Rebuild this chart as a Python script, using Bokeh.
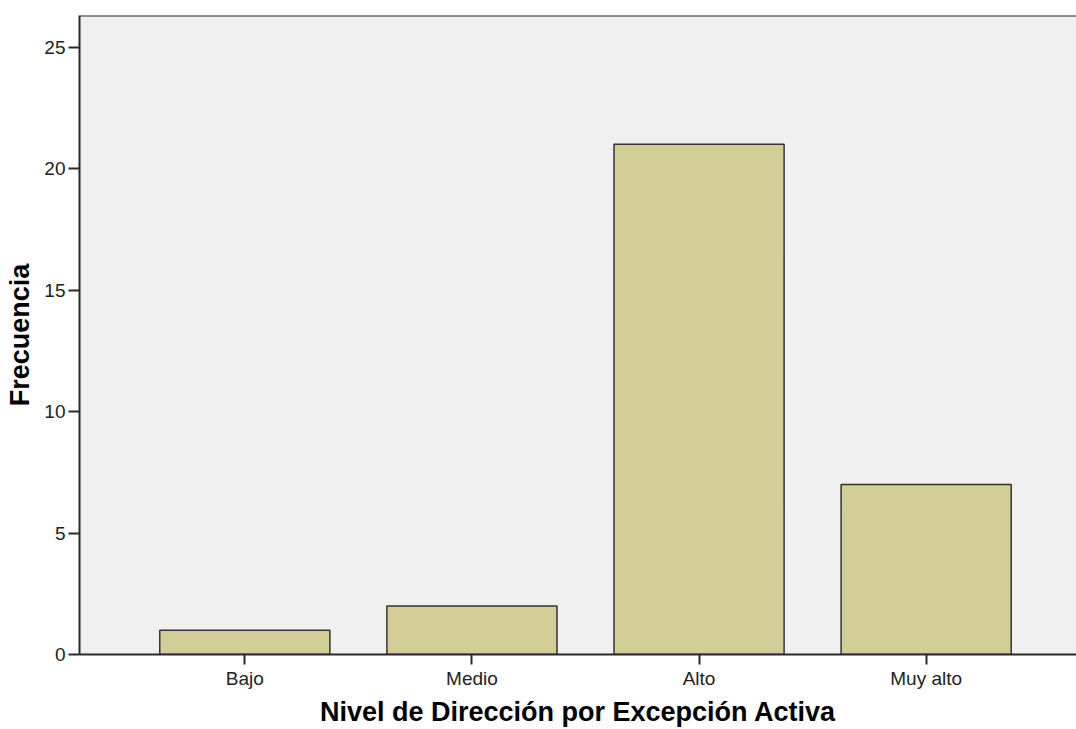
from bokeh.plotting import figure
from bokeh.models import ColumnDataSource, FixedTicker, Span, Range1d
from bokeh.embed import file_html
from bokeh.resources import INLINE

categories = ["Bajo", "Medio", "Alto", "Muy alto"]
frequencies = [1, 2, 21, 7]
y_ticks = [0, 5, 10, 15, 20, 25]

positions = list(range(1, len(categories) + 1))
source = ColumnDataSource(data=dict(x=positions, top=frequencies, cat=categories))

FONT = "Liberation Sans"

p = figure(width=1076, height=729, output_backend="svg", toolbar_location=None,
           x_range=Range1d(0.272, 4.662), y_range=Range1d(0, 26.3),
           min_border_left=79, min_border_right=0, min_border_top=15, min_border_bottom=75)

p.vbar(x="x", top="top", bottom=0, width=0.749, source=source,
       fill_color="#D3CE98", line_color="#333333", line_width=1.5)

p.background_fill_color = "#F0F0F0"
p.border_fill_color = "white"
p.outline_line_color = None
p.xgrid.visible = False
p.ygrid.visible = False

top_line = Span(location=26.3, dimension="width", line_color="#2a2a2a", line_width=2)
p.add_layout(top_line)

# x axis
p.xaxis.ticker = FixedTicker(ticks=positions)
p.xaxis.major_label_overrides = {pos: c for pos, c in zip(positions, categories)}
p.xaxis.axis_label = "Nivel de Dirección por Excepción Activa"
# y axis
p.yaxis.ticker = FixedTicker(ticks=y_ticks)
p.yaxis.axis_label = "Frecuencia"

for ax in (p.xaxis, p.yaxis):
    ax.axis_line_color = "#2a2a2a"
    ax.axis_line_width = 2
    ax.major_tick_line_color = "#2a2a2a"
    ax.major_tick_line_width = 2
    ax.major_tick_in = 0
    ax.minor_tick_line_color = None
    ax.major_label_text_font = FONT
    ax.major_label_text_font_size = "19px"
    ax.major_label_text_color = "#222222"
    ax.axis_label_text_font = FONT
    ax.axis_label_text_font_size = "27px"
    ax.axis_label_text_font_style = "bold"
    ax.axis_label_text_color = "#000000"

p.xaxis.major_tick_out = 10
p.xaxis.major_label_standoff = 3
p.xaxis.axis_label_standoff = 5
p.yaxis.major_tick_out = 11
p.yaxis.major_label_standoff = 3
p.yaxis.axis_label_standoff = 6

open("out.html", "w").write(file_html(p, INLINE))
